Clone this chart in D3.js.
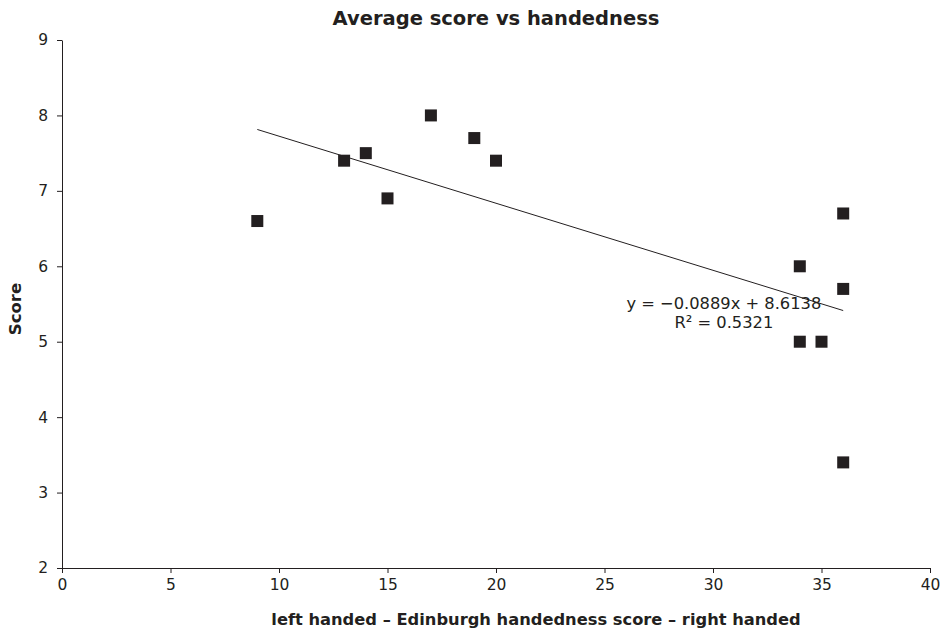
<!DOCTYPE html>
<html>
<head>
<meta charset="utf-8">
<script src="https://cdn.jsdelivr.net/npm/d3@7"></script>
<style>
body{margin:0;background:#fff;}
text{font-family:"DejaVu Sans",Verdana,sans-serif;fill:#231f20;}
.axis path,.axis line{stroke:#231f20;}
</style>
</head>
<body>
<div class="chart"></div>
<script>
const handedness=[9,13,14,15,17,19,20,34,34,35,36,36,36]
const scores=[6.6,7.4,7.5,6.9,8.0,7.7,7.4,6.0,5.0,5.0,6.7,5.7,3.4]
const xTicks=[0,5,10,15,20,25,30,35,40]
const yTicks=[2,3,4,5,6,7,8,9]
const slope=-0.0889, intercept=8.6138
const trendRange=[9,36]

const data=handedness.map((h,i)=>({x:h,y:scores[i]}))

const margin=({top:40,right:16,bottom:63,left:62})
const width=946-margin.left-margin.right,
	height=631-margin.top-margin.bottom

let xScale=d3.scaleLinear()
	.domain([0,40])
	.range([0,width])

let yScale=d3.scaleLinear()
	.domain([2,9])
	.range([height,0])

let svg=d3.select('.chart').append('svg')
	.attr('width',946)
	.attr('height',631)
	.append('g')
	.attr('transform','translate('+margin.left+','+margin.top+')')

const xAxis=d3.axisBottom(xScale).tickValues(xTicks).tickSize(5).tickSizeOuter(0).tickPadding(6)
svg.append('g')
	.attr('class','axis x-axis')
	.attr('transform',`translate(0,${height})`)
	.call(xAxis)

const yAxis=d3.axisLeft(yScale).tickValues(yTicks).tickFormat(d3.format('d')).tickSize(5).tickSizeOuter(0).tickPadding(9)
svg.append('g')
	.attr('class','axis y-axis')
	.call(yAxis)

svg.selectAll('.axis text')
	.attr('font-size',15.5)
	.style('font-family','"DejaVu Sans",Verdana,sans-serif')
	.attr('fill','#231f20')

// trendline
svg.append('line')
	.attr('x1',xScale(trendRange[0]))
	.attr('y1',yScale(slope*trendRange[0]+intercept))
	.attr('x2',xScale(trendRange[1]))
	.attr('y2',yScale(slope*trendRange[1]+intercept))
	.attr('stroke','#231f20')
	.attr('stroke-width',1)

svg.selectAll('rect.pt')
	.data(data)
	.enter()
	.append('rect')
	.attr('class','pt')
	.attr('x',d=>xScale(d.x)-6)
	.attr('y',d=>yScale(d.y)-6)
	.attr('width',12)
	.attr('height',12)
	.attr('fill','#231f20')

svg.append('text')
	.attr('x',xScale(30.5))
	.attr('y',yScale(5.434))
	.attr('text-anchor','middle')
	.attr('font-size',16.3)
	.text('y = −0.0889x + 8.6138')

svg.append('text')
	.attr('x',xScale(30.5))
	.attr('y',yScale(5.182))
	.attr('text-anchor','middle')
	.attr('font-size',16.3)
	.text('R² = 0.5321')

svg.append('text')
	.attr('x',496-margin.left)
	.attr('y',-15)
	.attr('text-anchor','middle')
	.attr('font-size',19.5)
	.attr('font-weight','bold')
	.text('Average score vs handedness')

svg.append('text')
	.attr('x',536-margin.left)
	.attr('y',height+57)
	.attr('text-anchor','middle')
	.attr('font-size',16.3)
	.attr('font-weight','bold')
	.text('left handed – Edinburgh handedness score – right handed')

svg.append('text')
	.attr('transform','translate('+(21-margin.left)+','+(309-margin.top)+') rotate(-90)')
	.attr('text-anchor','middle')
	.attr('font-size',16.5)
	.attr('font-weight','bold')
	.text('Score')
</script>
</body>
</html>
